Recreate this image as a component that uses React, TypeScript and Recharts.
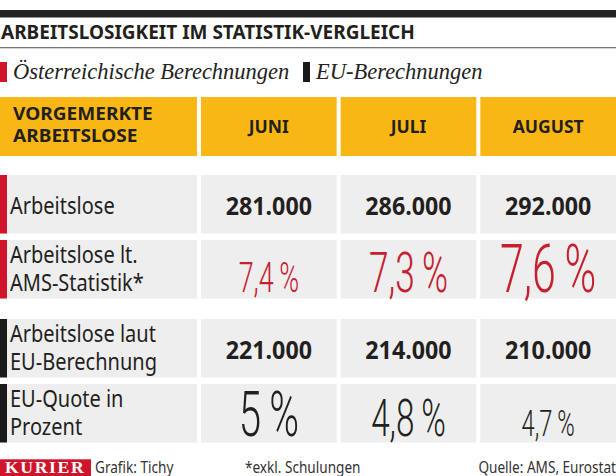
import { Scatter, ScatterChart, XAxis, YAxis } from 'recharts';

const title = 'ARBEITSLOSIGKEIT IM STATISTIK-VERGLEICH';
const legendItems = ['Österreichische Berechnungen', 'EU-Berechnungen'];
const cornerLabel = ['VORGEMERKTE', 'ARBEITSLOSE'];

const months = ['JUNI', 'JULI', 'AUGUST'];
const arbeitslose = [281000, 286000, 292000];
const amsQuote = [7.4, 7.3, 7.6];
const euArbeitslose = [221000, 214000, 210000];
const euQuote = [5, 4.8, 4.7];

const oesterreichRows = ['Arbeitslose', 'Arbeitslose lt.\nAMS-Statistik*'];
const euRows = ['Arbeitslose laut\nEU-Berechnung', 'EU-Quote in\nProzent'];

const footnote = '*exkl. Schulungen';
const source = 'Quelle: AMS, Eurostat';
const credit = 'Grafik: Tichy';

const RED = '#d0142c';
const RED_TEXT = '#c6202f';
const INK = '#231f20';
const GREY = '#efeeef';
const YELLOW = '#f9b715';

const SANS = '"Noto Sans", sans-serif';
const THIN = 'Roboto, sans-serif';
const SERIF = '"Liberation Serif", serif';

const CHART_W = 620;
const LABEL_W = 201;
const COL_W = (CHART_W - LABEL_W) / 3;
const BAND = 65;
const HEADER_H = 78;

// percent figures are set in different sizes in the original layout
const quoteSize: Record<string, number[]> = {
  ams: [42, 55, 67],
  eu: [63, 52, 37],
};

const countFormatter = new Intl.NumberFormat('de-DE');
const quoteFormatter = new Intl.NumberFormat('de-AT', { maximumFractionDigits: 1 });

type Cell = { month: string; row: string; kind: 'count' | 'quote'; value: number; i: number };

const sectionA: Cell[] = months.flatMap((month, i) => [
  { month, row: oesterreichRows[0], kind: 'count' as const, value: arbeitslose[i], i },
  { month, row: oesterreichRows[1], kind: 'quote' as const, value: amsQuote[i], i },
]);

const sectionB: Cell[] = months.flatMap((month, i) => [
  { month, row: euRows[0], kind: 'count' as const, value: euArbeitslose[i], i },
  { month, row: euRows[1], kind: 'quote' as const, value: euQuote[i], i },
]);

function SText({
  x,
  y,
  sx = 1,
  size,
  weight = 400,
  fill = INK,
  family = SANS,
  anchor = 'start',
  italic = false,
  spacing,
  children,
}: any) {
  return (
    <text
      transform={`translate(${x},${y}) scale(${sx},1)`}
      fontSize={size}
      fontWeight={weight}
      fill={fill}
      fontFamily={family}
      fontStyle={italic ? 'italic' : 'normal'}
      textAnchor={anchor}
      letterSpacing={spacing}
    >
      {children}
    </text>
  );
}

function makeRowTick(barColor: string) {
  return (props: any) => {
    const { x, y, payload } = props;
    const lines = String(payload.value).split('\n');
    const left = x - LABEL_W;
    return (
      <g>
        <rect x={left} y={y - 32.5} width={LABEL_W - 4} height={58.5} fill={GREY} />
        <rect x={left} y={y - 32.5} width={7} height={58.5} fill={barColor} />
        {lines.length === 1 ? (
          <SText x={left + 10} y={y + 6.75} size={23} sx={0.87}>
            {lines[0]}
          </SText>
        ) : (
          lines.map((line, k) => (
            <SText key={k} x={left + 10} y={y - 9.5 + k * 27.5} size={23} sx={0.87}>
              {line}
            </SText>
          ))
        )}
      </g>
    );
  };
}

function HeaderTick(props: any) {
  const { x, y, payload } = props;
  return (
    <g>
      <rect x={x - COL_W / 2} y={y - HEADER_H} width={COL_W - 4} height={59} fill={YELLOW} />
      <SText x={x - 2} y={y - 41.7} size={17.5} weight={700} anchor="middle">
        {payload.value}
      </SText>
    </g>
  );
}

function makeCell(section: 'ams' | 'eu', quoteColor: string) {
  return (props: any) => {
    const { cx, cy, payload } = props;
    const d = payload as Cell;
    const left = cx - COL_W / 2;
    const mid = left + (COL_W - 4) / 2;
    return (
      <g>
        <rect x={left} y={cy - 32.5} width={COL_W - 4} height={58.5} fill={GREY} />
        {d.kind === 'count' ? (
          <SText x={mid} y={cy + 7} size={24.5} weight={700} sx={0.95} anchor="middle">
            {countFormatter.format(d.value)}
          </SText>
        ) : (
          <SText
            x={mid}
            y={cy + 19}
            size={quoteSize[section][d.i]}
            weight={300}
            sx={0.64}
            family={THIN}
            fill={quoteColor}
            anchor="middle"
          >
            {`${quoteFormatter.format(d.value)}\u2009%`}
          </SText>
        )}
      </g>
    );
  };
}

export default function App() {
  return (
    <div
      style={{
        position: 'absolute',
        left: 0,
        top: 0,
        width: 616,
        height: 476,
        overflow: 'hidden',
        background: '#fff',
      }}
    >
      <svg width={616} height={476} style={{ position: 'absolute', left: 0, top: 0 }}>
        <rect x={0} y={10} width={616} height={7.5} fill="#222" />
        <SText x={1} y={39} size={19.6} weight={700} sx={0.97}>
          {title}
        </SText>
        <rect x={0} y={47} width={616} height={1.3} fill="#777" />

        <rect x={0} y={62} width={7} height={20} fill={RED} />
        <SText x={13} y={79.3} size={22.5} family={SERIF} italic fill="#222">
          {legendItems[0]}
        </SText>
        <rect x={303} y={62} width={7} height={20} fill="#1a1a1a" />
        <SText x={316} y={79.3} size={22.5} family={SERIF} italic fill="#222">
          {legendItems[1]}
        </SText>

        <rect x={0} y={97} width={197} height={59} fill={YELLOW} />
        {cornerLabel.map((line, k) => (
          <SText key={k} x={13} y={120 + k * 21.7} size={17.5} weight={700} sx={1.09}>
            {line}
          </SText>
        ))}

        <rect x={0} y={459.3} width={91} height={17} fill={RED} />
        <SText x={5} y={472.7} size={17.7} weight={700} family={SERIF} fill="#fff" spacing={1.6}>
          KURIER
        </SText>
        <SText x={95} y={472.7} size={17} sx={0.8} fill="#333">
          {credit}
        </SText>
        <SText x={245} y={472.7} size={17} sx={0.8} fill="#333">
          {footnote}
        </SText>
        <SText x={616} y={472.7} size={17} sx={0.8} fill="#333" anchor="end">
          {source}
        </SText>
      </svg>

      <div style={{ position: 'absolute', left: 0, top: 97 }}>
        <ScatterChart
          width={CHART_W}
          height={HEADER_H + 2 * BAND}
          margin={{ top: 0, right: 0, bottom: 0, left: 0 }}
        >
          <XAxis
            type="category"
            dataKey="month"
            orientation="top"
            height={HEADER_H}
            allowDuplicatedCategory={false}
            axisLine={false}
            tickLine={false}
            tickSize={0}
            tickMargin={0}
            interval={0}
            tick={HeaderTick}
          />
          <YAxis
            type="category"
            dataKey="row"
            width={LABEL_W}
            reversed
            allowDuplicatedCategory={false}
            axisLine={false}
            tickLine={false}
            tickSize={0}
            tickMargin={0}
            interval={0}
            tick={makeRowTick(RED)}
          />
          <Scatter data={sectionA} shape={makeCell('ams', RED_TEXT)} isAnimationActive={false} />
        </ScatterChart>
      </div>

      <div style={{ position: 'absolute', left: 0, top: 319 }}>
        <ScatterChart
          width={CHART_W}
          height={2 * BAND}
          margin={{ top: 0, right: 0, bottom: 0, left: 0 }}
        >
          <XAxis
            type="category"
            dataKey="month"
            hide
            allowDuplicatedCategory={false}
          />
          <YAxis
            type="category"
            dataKey="row"
            width={LABEL_W}
            reversed
            allowDuplicatedCategory={false}
            axisLine={false}
            tickLine={false}
            tickSize={0}
            tickMargin={0}
            interval={0}
            tick={makeRowTick('#1a1a1a')}
          />
          <Scatter data={sectionB} shape={makeCell('eu', INK)} isAnimationActive={false} />
        </ScatterChart>
      </div>
    </div>
  );
}
